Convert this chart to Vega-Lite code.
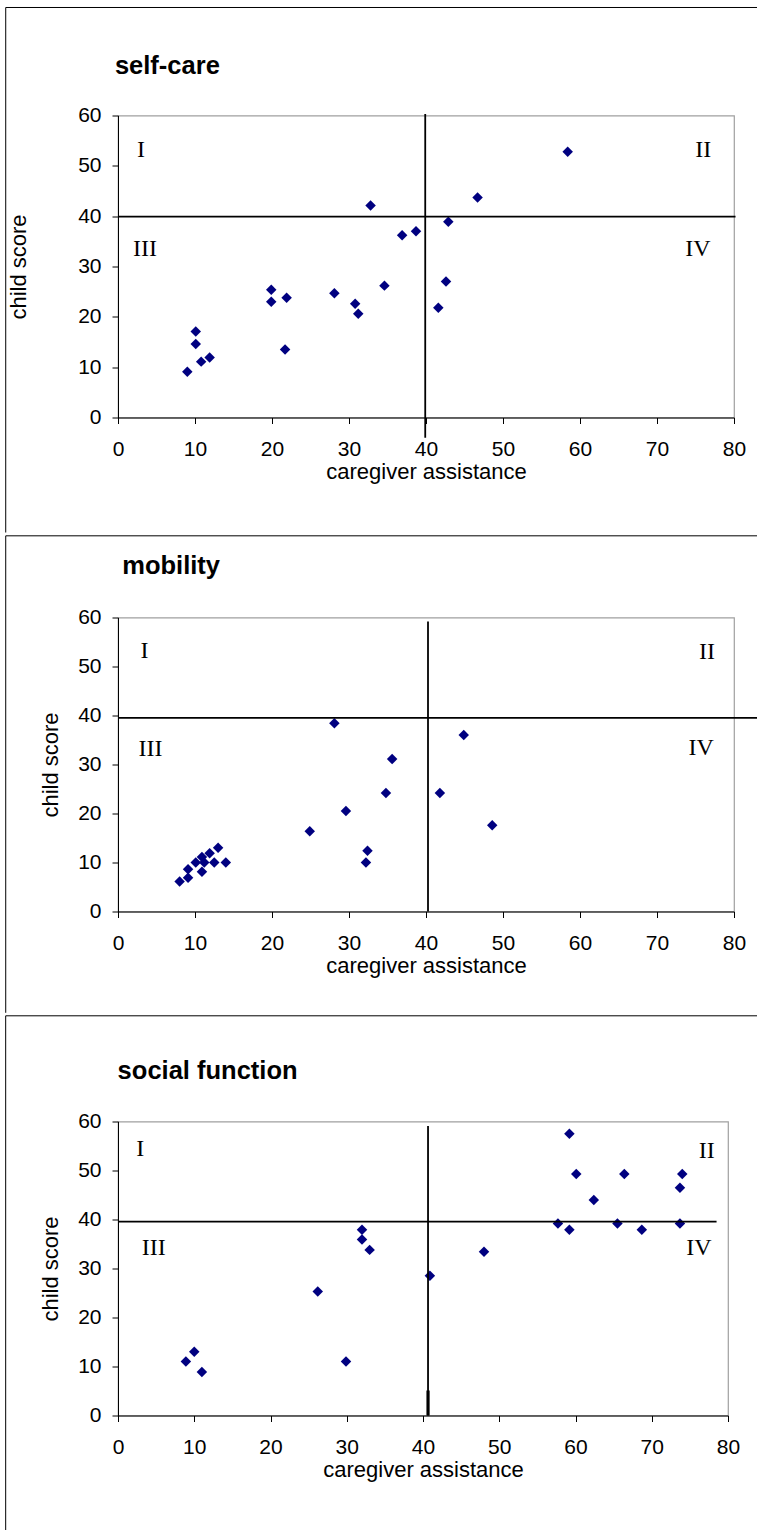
{
  "$schema": "https://vega.github.io/schema/vega-lite/v6.json",
  "padding": {"left": 4, "top": 5.5, "right": 0, "bottom": 0},
  "background": "white",
  "columns": 1,
  "align": "none",
  "spacing": 0,
  "bounds": "full",
  "datasets": {
    "one": [{}],
    "selfcare": [
      {"x": 9.0, "y": 9.1}, {"x": 10.1, "y": 17.1}, {"x": 10.1, "y": 14.6}, {"x": 10.8, "y": 11.1},
      {"x": 11.9, "y": 11.9}, {"x": 19.9, "y": 25.4}, {"x": 19.9, "y": 23.0}, {"x": 21.9, "y": 23.8},
      {"x": 21.7, "y": 13.5}, {"x": 28.1, "y": 24.7}, {"x": 30.8, "y": 22.6}, {"x": 31.2, "y": 20.6},
      {"x": 32.8, "y": 42.1}, {"x": 34.6, "y": 26.2}, {"x": 36.9, "y": 36.2}, {"x": 38.7, "y": 37.0},
      {"x": 41.6, "y": 21.8}, {"x": 42.6, "y": 27.0}, {"x": 42.9, "y": 38.9}, {"x": 46.7, "y": 43.7},
      {"x": 58.4, "y": 52.8}
    ],
    "mobility": [
      {"x": 8.0, "y": 6.1}, {"x": 9.1, "y": 6.9}, {"x": 9.1, "y": 8.6}, {"x": 10.1, "y": 10.0},
      {"x": 10.9, "y": 11.1}, {"x": 10.9, "y": 8.1}, {"x": 11.2, "y": 10.0}, {"x": 11.9, "y": 11.9},
      {"x": 12.5, "y": 10.0}, {"x": 13.0, "y": 13.0}, {"x": 14.0, "y": 10.0}, {"x": 24.9, "y": 16.4},
      {"x": 28.1, "y": 38.4}, {"x": 29.6, "y": 20.5}, {"x": 32.2, "y": 10.0}, {"x": 32.4, "y": 12.4},
      {"x": 34.8, "y": 24.2}, {"x": 35.6, "y": 31.1}, {"x": 41.8, "y": 24.2}, {"x": 44.9, "y": 36.0},
      {"x": 48.6, "y": 17.6}
    ],
    "social": [
      {"x": 8.9, "y": 11.0}, {"x": 10.0, "y": 13.0}, {"x": 11.0, "y": 8.9}, {"x": 26.2, "y": 25.3},
      {"x": 29.9, "y": 11.0}, {"x": 32.0, "y": 37.9}, {"x": 32.0, "y": 35.9}, {"x": 33.0, "y": 33.8},
      {"x": 40.9, "y": 28.5}, {"x": 48.0, "y": 33.4}, {"x": 57.7, "y": 39.2}, {"x": 59.2, "y": 37.9},
      {"x": 59.2, "y": 57.5}, {"x": 60.1, "y": 49.3}, {"x": 62.4, "y": 44.0}, {"x": 65.5, "y": 39.2},
      {"x": 66.4, "y": 49.3}, {"x": 68.7, "y": 37.9}, {"x": 73.7, "y": 39.2}, {"x": 73.7, "y": 46.5},
      {"x": 74.0, "y": 49.3}
    ],
    "q1": [
      {"q": "I", "x": 3.0, "y": 53.1}, {"q": "III", "x": 3.5, "y": 33.4},
      {"q": "II", "x": 76.0, "y": 53.1}, {"q": "IV", "x": 75.3, "y": 33.4}
    ],
    "q2": [
      {"q": "I", "x": 3.43, "y": 53.1}, {"q": "III", "x": 4.22, "y": 33.1},
      {"q": "II", "x": 76.5, "y": 52.9}, {"q": "IV", "x": 75.74, "y": 33.4}
    ],
    "q3": [
      {"q": "I", "x": 2.91, "y": 54.3}, {"q": "III", "x": 4.7, "y": 34.2},
      {"q": "II", "x": 77.2, "y": 54.0}, {"q": "IV", "x": 76.2, "y": 34.2}
    ]
  },
  "config": {
    "font": "Liberation Sans",
    "view": {"stroke": "#a0a0a0", "strokeWidth": 1.2},
    "axis": {
      "grid": false, "domainColor": "black", "domainWidth": 1, "tickColor": "black",
      "tickSize": 6, "tickWidth": 1, "labelFont": "Liberation Sans", "labelFontSize": 21,
      "labelColor": "black", "labelPadding": 11, "labelFlush": false,
      "titleFont": "Liberation Sans", "titleFontSize": 22, "titleFontWeight": "normal", "titleColor": "black"
    },
    "axisX": {"labelPadding": 15, "titlePadding": 2}
  },
  "concat": [
    {
      "width": 616, "height": 302,
      "layer": [
        {
          "data": {"name": "one"},
          "mark": {"type": "rule", "color": "black", "strokeWidth": 1},
          "encoding": {
            "x": {"datum": -14.58, "type": "quantitative", "title": "caregiver assistance"},
            "y": {"datum": 81.46, "type": "quantitative", "title": "child score"},
            "y2": {"datum": -22.85}
          }
        },
        {
          "data": {"name": "one"},
          "mark": {"type": "rule", "color": "black", "strokeWidth": 1},
          "encoding": {
            "x": {"datum": -14.58, "type": "quantitative", "title": "caregiver assistance"},
            "x2": {"datum": 84.6},
            "y": {"datum": 81.46, "type": "quantitative", "title": "child score"}
          }
        },
        {
          "data": {"name": "one"},
          "mark": {"type": "text", "text": "self-care", "font": "Liberation Sans", "fontSize": 25.5, "fontWeight": "bold", "color": "black", "align": "left", "baseline": "alphabetic"},
          "encoding": {
            "x": {"datum": -0.4, "type": "quantitative", "title": "caregiver assistance"},
            "y": {"datum": 68.29, "type": "quantitative", "title": "child score"}
          }
        },
        {
          "data": {"name": "selfcare"},
          "mark": {"type": "point", "shape": "diamond", "filled": true, "color": "#000080", "size": 110, "opacity": 1},
          "encoding": {
            "x": {"field": "x", "type": "quantitative", "title": "caregiver assistance",
                  "scale": {"domain": [0, 80], "nice": false, "zero": false},
                  "axis": {"values": [0, 10, 20, 30, 40, 50, 60, 70, 80]}},
            "y": {"field": "y", "type": "quantitative", "title": "child score",
                  "scale": {"domain": [0, 60], "nice": false, "zero": false},
                  "axis": {"values": [0, 10, 20, 30, 40, 50, 60], "titlePadding": 47}}
          }
        },
        {
          "data": {"name": "one"},
          "mark": {"type": "rule", "color": "black", "strokeWidth": 1.8},
          "encoding": {
            "x": {"datum": 39.9, "type": "quantitative", "title": "caregiver assistance"},
            "y": {"datum": 60.3, "type": "quantitative", "title": "child score"},
            "y2": {"datum": -4}
          }
        },
        {
          "data": {"name": "one"},
          "mark": {"type": "rule", "color": "black", "strokeWidth": 1.8},
          "encoding": {
            "x": {"datum": 0, "type": "quantitative", "title": "caregiver assistance"},
            "x2": {"datum": 80.2},
            "y": {"datum": 39.9, "type": "quantitative", "title": "child score"}
          }
        },
        {
          "data": {"name": "q1"},
          "mark": {"type": "text", "font": "Liberation Serif", "fontSize": 24, "color": "black", "align": "center", "baseline": "middle"},
          "encoding": {
            "x": {"field": "x", "type": "quantitative", "title": "caregiver assistance"},
            "y": {"field": "y", "type": "quantitative", "title": "child score"},
            "text": {"field": "q"}
          }
        }
      ]
    },
    {
      "width": 616, "height": 294,
      "layer": [
        {
          "data": {"name": "one"},
          "mark": {"type": "rule", "color": "black", "strokeWidth": 1},
          "encoding": {
            "x": {"datum": -14.58, "type": "quantitative", "title": "caregiver assistance"},
            "y": {"datum": 76.67, "type": "quantitative", "title": "child score"},
            "y2": {"datum": -20.67}
          }
        },
        {
          "data": {"name": "one"},
          "mark": {"type": "rule", "color": "black", "strokeWidth": 1},
          "encoding": {
            "x": {"datum": -14.58, "type": "quantitative", "title": "caregiver assistance"},
            "x2": {"datum": 84.6},
            "y": {"datum": 76.67, "type": "quantitative", "title": "child score"}
          }
        },
        {
          "data": {"name": "one"},
          "mark": {"type": "text", "text": "mobility", "font": "Liberation Sans", "fontSize": 25.5, "fontWeight": "bold", "color": "black", "align": "left", "baseline": "alphabetic"},
          "encoding": {
            "x": {"datum": 0.55, "type": "quantitative", "title": "caregiver assistance"},
            "y": {"datum": 68.86, "type": "quantitative", "title": "child score"}
          }
        },
        {
          "data": {"name": "mobility"},
          "mark": {"type": "point", "shape": "diamond", "filled": true, "color": "#000080", "size": 110, "opacity": 1},
          "encoding": {
            "x": {"field": "x", "type": "quantitative", "title": "caregiver assistance",
                  "scale": {"domain": [0, 80], "nice": false, "zero": false},
                  "axis": {"values": [0, 10, 20, 30, 40, 50, 60, 70, 80]}},
            "y": {"field": "y", "type": "quantitative", "title": "child score",
                  "scale": {"domain": [0, 60], "nice": false, "zero": false},
                  "axis": {"values": [0, 10, 20, 30, 40, 50, 60], "titlePadding": 15}}
          }
        },
        {
          "data": {"name": "one"},
          "mark": {"type": "rule", "color": "black", "strokeWidth": 1.8},
          "encoding": {
            "x": {"datum": 40.26, "type": "quantitative", "title": "caregiver assistance"},
            "y": {"datum": 59.2, "type": "quantitative", "title": "child score"},
            "y2": {"datum": 0}
          }
        },
        {
          "data": {"name": "one"},
          "mark": {"type": "rule", "color": "black", "strokeWidth": 1.8},
          "encoding": {
            "x": {"datum": 0, "type": "quantitative", "title": "caregiver assistance"},
            "x2": {"datum": 84},
            "y": {"datum": 39.5, "type": "quantitative", "title": "child score"}
          }
        },
        {
          "data": {"name": "q2"},
          "mark": {"type": "text", "font": "Liberation Serif", "fontSize": 24, "color": "black", "align": "center", "baseline": "middle"},
          "encoding": {
            "x": {"field": "x", "type": "quantitative", "title": "caregiver assistance"},
            "y": {"field": "y", "type": "quantitative", "title": "child score"},
            "text": {"field": "q"}
          }
        }
      ]
    },
    {
      "width": 610, "height": 294,
      "layer": [
        {
          "data": {"name": "one"},
          "mark": {"type": "rule", "color": "black", "strokeWidth": 1},
          "encoding": {
            "x": {"datum": -14.73, "type": "quantitative", "title": "caregiver assistance"},
            "y": {"datum": 81.57, "type": "quantitative", "title": "child score"},
            "y2": {"datum": -26.6}
          }
        },
        {
          "data": {"name": "one"},
          "mark": {"type": "rule", "color": "black", "strokeWidth": 1},
          "encoding": {
            "x": {"datum": -14.73, "type": "quantitative", "title": "caregiver assistance"},
            "x2": {"datum": 85.47},
            "y": {"datum": 81.57, "type": "quantitative", "title": "child score"}
          }
        },
        {
          "data": {"name": "one"},
          "mark": {"type": "text", "text": "social function", "font": "Liberation Sans", "fontSize": 25.5, "fontWeight": "bold", "color": "black", "align": "left", "baseline": "alphabetic"},
          "encoding": {
            "x": {"datum": -0.05, "type": "quantitative", "title": "caregiver assistance"},
            "y": {"datum": 68.65, "type": "quantitative", "title": "child score"}
          }
        },
        {
          "data": {"name": "social"},
          "mark": {"type": "point", "shape": "diamond", "filled": true, "color": "#000080", "size": 110, "opacity": 1},
          "encoding": {
            "x": {"field": "x", "type": "quantitative", "title": "caregiver assistance",
                  "scale": {"domain": [0, 80], "nice": false, "zero": false},
                  "axis": {"values": [0, 10, 20, 30, 40, 50, 60, 70, 80]}},
            "y": {"field": "y", "type": "quantitative", "title": "child score",
                  "scale": {"domain": [0, 60], "nice": false, "zero": false},
                  "axis": {"values": [0, 10, 20, 30, 40, 50, 60], "titlePadding": 15}}
          }
        },
        {
          "data": {"name": "one"},
          "mark": {"type": "rule", "color": "black", "strokeWidth": 1.8},
          "encoding": {
            "x": {"datum": 40.66, "type": "quantitative", "title": "caregiver assistance"},
            "y": {"datum": 59.1, "type": "quantitative", "title": "child score"},
            "y2": {"datum": 0}
          }
        },
        {
          "data": {"name": "one"},
          "mark": {"type": "rule", "color": "black", "strokeWidth": 3.2},
          "encoding": {
            "x": {"datum": 40.66, "type": "quantitative", "title": "caregiver assistance"},
            "y": {"datum": 5.1, "type": "quantitative", "title": "child score"},
            "y2": {"datum": 0}
          }
        },
        {
          "data": {"name": "one"},
          "mark": {"type": "rule", "color": "black", "strokeWidth": 1.8},
          "encoding": {
            "x": {"datum": 0, "type": "quantitative", "title": "caregiver assistance"},
            "x2": {"datum": 78.5},
            "y": {"datum": 39.55, "type": "quantitative", "title": "child score"}
          }
        },
        {
          "data": {"name": "q3"},
          "mark": {"type": "text", "font": "Liberation Serif", "fontSize": 24, "color": "black", "align": "center", "baseline": "middle"},
          "encoding": {
            "x": {"field": "x", "type": "quantitative", "title": "caregiver assistance"},
            "y": {"field": "y", "type": "quantitative", "title": "child score"},
            "text": {"field": "q"}
          }
        }
      ]
    }
  ]
}
